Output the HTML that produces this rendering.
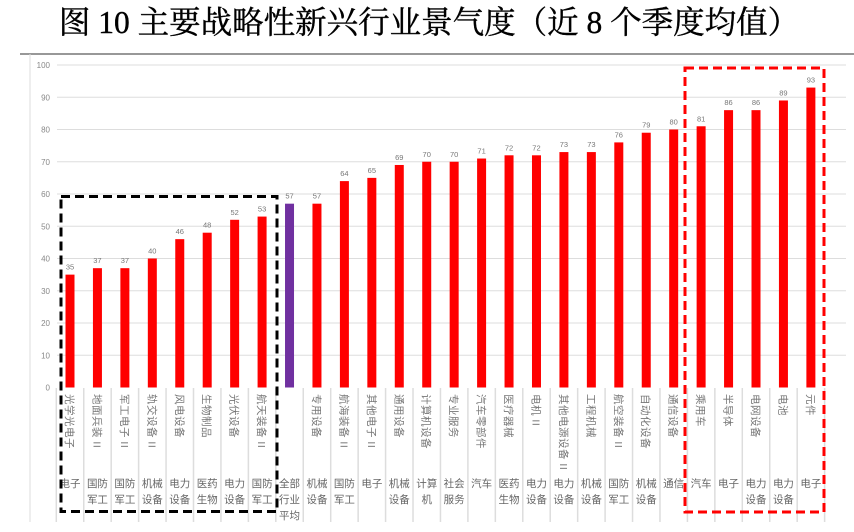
<!DOCTYPE html><html><head><meta charset="utf-8"><style>
body{margin:0;background:#fff;width:854px;height:532px;overflow:hidden}
svg{display:block}
.t{font-family:"Liberation Serif","Noto Serif CJK SC",serif}
</style></head><body>
<svg width="854" height="532" viewBox="0 0 854 532" xmlns="http://www.w3.org/2000/svg">
<text class="t" x="429" y="33" font-size="31.5" text-anchor="middle" fill="#000" stroke="#000" stroke-width="0.4">图 10  主要战略性新兴行业景气度（近 8 个季度均值）</text>
<line x1="20" y1="54" x2="854" y2="54" stroke="#777" stroke-width="1.5"/>
<line x1="30" y1="54" x2="30" y2="522" stroke="#ddd"/>
<g id="grid"></g>
<g id="bars"></g>
<rect x="61" y="196.5" width="216" height="315" fill="none" stroke="#000" stroke-width="3" stroke-dasharray="9,5"/>
<rect x="685" y="68" width="139" height="444" fill="none" stroke="#f00" stroke-width="3" stroke-dasharray="9,5"/>
</svg>
<script>
const ns="http://www.w3.org/2000/svg";
const g=document.getElementById('grid'),b=document.getElementById('bars');
function el(p,t,a,txt){const e=document.createElementNS(ns,t);for(const k in a)e.setAttribute(k,a[k]);if(txt!=null)e.textContent=txt;p.appendChild(e);return e;}
const y0=387.5,k=3.225;
for(let v=0;v<=100;v+=10){const y=y0-v*k;
 if(v>0)el(g,'line',{x1:57,x2:846,y1:y,y2:y,stroke:'#ddd','stroke-width':1});
 el(g,'text',{x:50,y:y+3,'font-size':8,'text-anchor':'end',fill:'#888','font-family':'Liberation Sans'},v);}
const d=[[35,'光学光电子','电子'],[37,'地面兵装 II','国防|军工'],[37,'军工电子 II','国防|军工'],[40,'轨交设备 II','机械|设备'],[46,'风电设备','电力|设备'],[48,'生物制品','医药|生物'],[52,'光伏设备','电力|设备'],[53,'航天装备 II','国防|军工'],[57,'','全部|行业|平均'],[57,'专用设备','机械|设备'],[64,'航海装备 II','国防|军工'],[65,'其他电子 II','电子'],[69,'通用设备','机械|设备'],[70,'计算机设备','计算|机'],[70,'专业服务','社会|服务'],[71,'汽车零部件','汽车'],[72,'医疗器械','医药|生物'],[72,'电机 II','电力|设备'],[73,'其他电源设备 II','电力|设备'],[73,'工程机械','机械|设备'],[76,'航空装备 II','国防|军工'],[79,'自动化设备','机械|设备'],[80,'通信设备','通信'],[81,'乘用车','汽车'],[86,'半导体','电子'],[86,'电网设备','电力|设备'],[89,'电池','电力|设备'],[93,'元件','电子']];
const sp=27.44;
for(let i=0;i<=28;i++){const x=56.3+i*sp;el(g,'line',{x1:x,x2:x,y1:388,y2:522,stroke:'#ddd','stroke-width':1.5});}
d.forEach((r,i)=>{const cx=70+i*sp,h=r[0]*k;
 el(b,'rect',{x:cx-4.5,y:y0-h,width:9,height:h,fill:i==8?'#7030a0':'#ff0000'});
 el(b,'text',{x:cx,y:y0-h-5,'font-size':7.5,'text-anchor':'middle',fill:'#777','font-family':'Liberation Sans'},r[0]);
 if(r[1]){el(b,'text',{x:0,y:0,'font-size':10.5,fill:'#777','letter-spacing':'0.5','font-family':'Liberation Sans, Noto Sans CJK SC, sans-serif',transform:`translate(${cx-4},394) rotate(90)`},r[1]);}
 r[2].split('|').forEach((s,j)=>el(b,'text',{x:cx,y:487+j*16,'font-size':10.5,'text-anchor':'middle',fill:'#666','font-family':'Liberation Sans, Noto Sans CJK SC, sans-serif'},s));
});
</script>
</body></html>
